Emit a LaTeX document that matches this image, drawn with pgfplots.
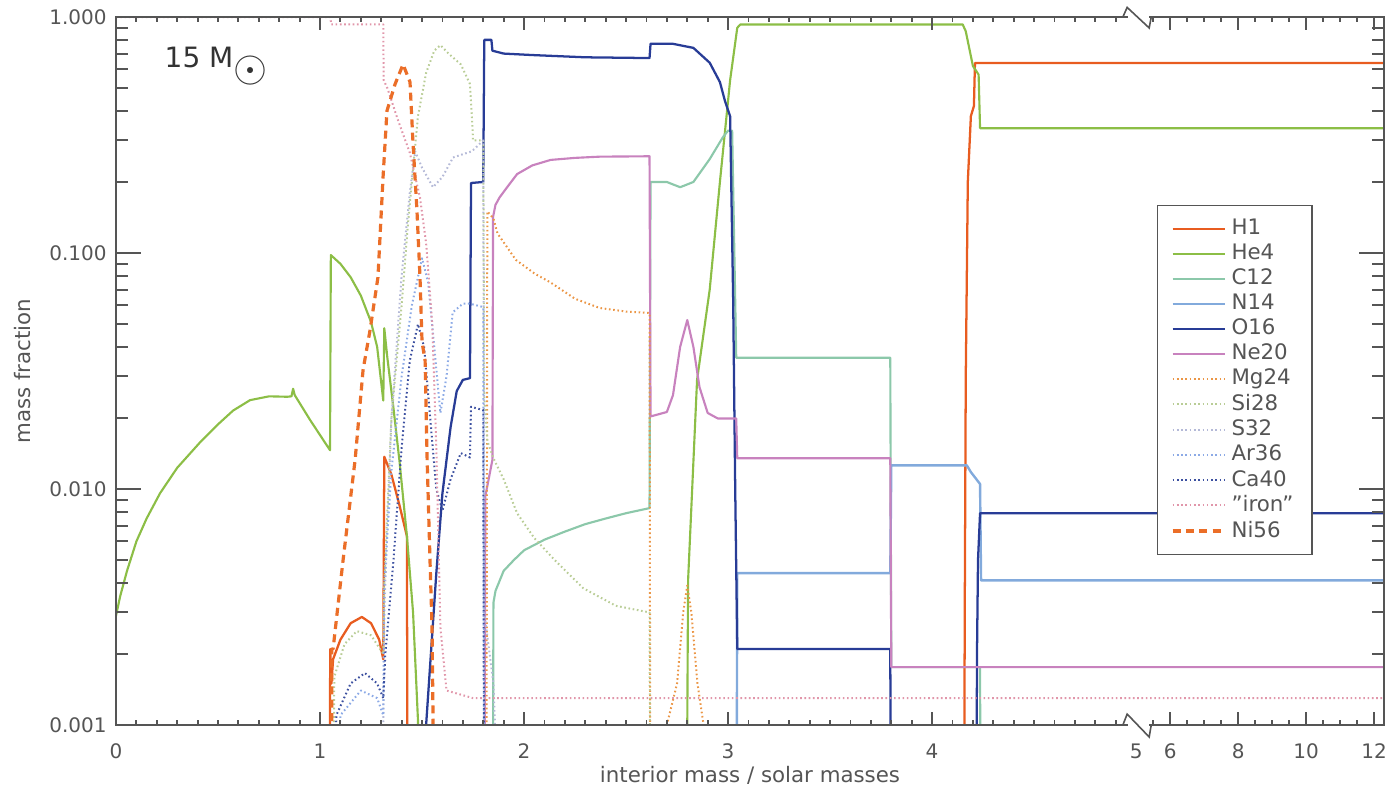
\documentclass[border=0pt]{standalone}
\usepackage{fontspec}
\setmainfont{DejaVu Sans}
\usepackage{pgfplots}
\pgfplotsset{compat=1.18}
\definecolor{cH}{RGB}{232,92,32}
\definecolor{cHe}{RGB}{140,190,70}
\definecolor{cC}{RGB}{140,200,170}
\definecolor{cN}{RGB}{130,170,220}
\definecolor{cO}{RGB}{40,60,150}
\definecolor{cNe}{RGB}{200,130,190}
\definecolor{cMg}{RGB}{235,150,70}
\definecolor{cSi}{RGB}{185,205,150}
\definecolor{cS}{RGB}{180,185,215}
\definecolor{cAr}{RGB}{140,170,230}
\definecolor{cCa}{RGB}{60,80,160}
\definecolor{cFe}{RGB}{225,150,170}
\definecolor{cNi}{RGB}{235,110,40}
\definecolor{axg}{RGB}{85,85,85}
\begin{document}
\begin{tikzpicture}
\begin{axis}[
  scale only axis, width=475.5pt, height=265.5pt,
  xmin=0, xmax=6.215, ymin=0.001, ymax=1, ymode=log,
  clip mode=individual,
  axis line style={draw=axg, line width=0.6pt},
  xtick=\empty, ytick=\empty,
  extra x ticks={0,1,2,3,4,5,5.16667,5.5,5.83333,6.16667},
  extra x tick labels={0,1,2,3,4,5,6,8,10,12},
  extra x tick style={major tick length=0pt, tick label style={font=\fontsize{7.5}{9}\selectfont, text=axg, yshift=-3.5pt}},
  xlabel={interior mass / solar masses},
  every axis x label/.style={at={(axis description cs:0.5,-0.071)}, anchor=center, font=\fontsize{8}{9}\selectfont, text=axg},
  legend style={at={(axis description cs:0.821,0.7345)}, anchor=north west, draw=axg, line width=0.5pt, font=\fontsize{8}{9}\selectfont, text=axg, row sep=-2pt, inner xsep=5pt, inner ysep=3pt, /tikz/every even column/.append style={column sep=9pt}},
  legend cell align=left,
  legend image code/.code={\draw[#1] (0pt,0pt) -- (19.5pt,0pt);},
  every axis plot/.append style={line join=round},
]
% H1
\addplot[cH, line width=0.85pt] coordinates {
(1.045,0.0001) (1.05,0.0021) (1.056,0.0015) (1.064,0.0019) (1.10,0.0023) (1.15,0.0027) (1.205,0.00287) (1.25,0.0027) (1.29,0.0023) (1.31,0.0019) (1.315,0.0137) (1.35,0.0115) (1.39,0.0085) (1.426,0.0063) (1.43,0.0001)
(4.155,0.0001) (4.16,0.003) (4.165,0.03) (4.175,0.2) (4.19,0.38) (4.205,0.42) (4.21,0.638) (6.3,0.638)};
\addlegendentry{H1}
% He4
\addplot[cHe, line width=0.8pt] coordinates {
(0,0.0029) (0.02,0.0035) (0.054,0.0045) (0.1,0.0060) (0.15,0.0075) (0.216,0.0096) (0.3,0.0123) (0.41,0.0157) (0.5,0.0188) (0.574,0.0215) (0.657,0.0238) (0.75,0.0247) (0.84,0.0246) (0.86,0.0247) (0.868,0.0266) (0.876,0.0250) (0.95,0.0197) (1.049,0.0146) (1.053,0.098) (1.10,0.090) (1.15,0.079) (1.20,0.066) (1.25,0.051) (1.28,0.040) (1.31,0.0237) (1.315,0.048) (1.33,0.036) (1.36,0.022) (1.39,0.013) (1.426,0.0063) (1.456,0.0030) (1.48,0.00105) (1.49,0.0001)
(2.79,0.0001) (2.80,0.001) (2.804,0.0041) (2.848,0.029) (2.91,0.07) (2.96,0.2) (3.01,0.54) (3.045,0.9) (3.06,0.93) (4.15,0.93) (4.165,0.87) (4.20,0.62) (4.228,0.57) (4.235,0.338) (6.3,0.338)};
\addlegendentry{He4}
% C12
\addplot[cC, line width=0.8pt] coordinates {
(1.845,0.0001) (1.85,0.0033) (1.86,0.0037) (1.90,0.0045) (1.95,0.0050) (2.0,0.0055) (2.1,0.0061) (2.2,0.0066) (2.3,0.0071) (2.4,0.0075) (2.5,0.0079) (2.615,0.0083) (2.62,0.20) (2.70,0.20) (2.765,0.19) (2.83,0.20) (2.91,0.25) (2.975,0.31) (3.0,0.33) (3.02,0.33) (3.04,0.036) (3.795,0.036) (3.80,0.00176) (4.235,0.00176) (4.24,0.0001)};
\addlegendentry{C12}
% N14
\addplot[cN, line width=0.9pt] coordinates {
(3.04,0.0001) (3.045,0.0044) (3.795,0.0044) (3.80,0.0126) (4.17,0.0126) (4.19,0.0118) (4.235,0.0105) (4.24,0.0041) (6.3,0.0041)};
\addlegendentry{N14}
% O16
\addplot[cO, line width=0.85pt] coordinates {
(1.515,0.0001) (1.52,0.001) (1.57,0.0044) (1.60,0.0096) (1.64,0.0183) (1.67,0.026) (1.70,0.029) (1.735,0.0295) (1.74,0.198) (1.80,0.20) (1.805,0.80) (1.84,0.80) (1.845,0.72) (1.9,0.70) (2.04,0.69) (2.3,0.675) (2.615,0.67) (2.62,0.77) (2.73,0.77) (2.83,0.74) (2.91,0.64) (2.96,0.53) (2.985,0.44) (3.01,0.38) (3.025,0.063) (3.035,0.01) (3.045,0.0021) (3.795,0.0021) (3.80,0.0001)
(4.215,0.0001) (4.22,0.002) (4.225,0.005) (4.235,0.0079) (6.3,0.0079)};
\addlegendentry{O16}
% Ne20
\addplot[cNe, line width=0.8pt] coordinates {
(1.805,0.0001) (1.81,0.0093) (1.845,0.0133) (1.848,0.142) (1.86,0.16) (1.88,0.172) (1.917,0.19) (1.966,0.216) (2.04,0.235) (2.13,0.248) (2.25,0.253) (2.37,0.256) (2.615,0.257) (2.62,0.0203) (2.70,0.0212) (2.73,0.025) (2.765,0.040) (2.80,0.052) (2.83,0.040) (2.86,0.027) (2.90,0.021) (2.95,0.0199) (3.04,0.0199) (3.045,0.0135) (3.795,0.0135) (3.80,0.00176) (6.3,0.00176)};
\addlegendentry{Ne20}
% Mg24
\addplot[cMg, line width=0.75pt, dash pattern=on 0.6pt off 1pt] coordinates {
(1.815,0.0001) (1.82,0.15) (1.85,0.14) (1.87,0.121) (1.96,0.0935) (2.05,0.082) (2.13,0.075) (2.25,0.064) (2.37,0.0585) (2.5,0.0565) (2.615,0.0557) (2.62,0.0001) (2.69,0.0001) (2.70,0.001) (2.75,0.0015) (2.78,0.003) (2.80,0.0039) (2.82,0.0030) (2.85,0.0015) (2.88,0.001) (2.885,0.0001)};
\addlegendentry{Mg24}
% Si28
\addplot[cSi, line width=0.75pt, dash pattern=on 0.6pt off 1pt] coordinates {
(1.06,0.0001) (1.07,0.0016) (1.12,0.0022) (1.18,0.0025) (1.25,0.0024) (1.31,0.0020) (1.315,0.004) (1.35,0.02) (1.40,0.06) (1.43,0.13) (1.45,0.2) (1.48,0.38) (1.52,0.58) (1.56,0.72) (1.59,0.76) (1.63,0.70) (1.69,0.63) (1.735,0.52) (1.745,0.37) (1.75,0.30) (1.80,0.30) (1.805,0.025) (1.82,0.016) (1.85,0.0135) (1.90,0.011) (1.966,0.0079) (2.05,0.0062) (2.15,0.0050) (2.29,0.0038) (2.45,0.0032) (2.615,0.0030) (2.62,0.0001)};
\addlegendentry{Si28}
% S32
\addplot[cS, line width=0.75pt, dash pattern=on 0.6pt off 1pt] coordinates {
(1.30,0.0001) (1.315,0.003) (1.35,0.02) (1.40,0.08) (1.44,0.18) (1.466,0.27) (1.50,0.23) (1.554,0.19) (1.60,0.21) (1.652,0.254) (1.745,0.27) (1.80,0.30) (1.805,0.003) (1.85,0.0015) (1.9,0.0001)};
\addlegendentry{S32}
% Ar36
\addplot[cAr, line width=0.75pt, dash pattern=on 0.6pt off 1pt] coordinates {
(1.06,0.0001) (1.10,0.0011) (1.20,0.0014) (1.28,0.0013) (1.31,0.0011) (1.315,0.004) (1.35,0.012) (1.40,0.03) (1.45,0.06) (1.50,0.095) (1.53,0.075) (1.56,0.04) (1.59,0.021) (1.62,0.03) (1.65,0.056) (1.70,0.061) (1.735,0.061) (1.80,0.059) (1.805,0.0001)};
\addlegendentry{Ar36}
% Ca40
\addplot[cCa, line width=0.75pt, dash pattern=on 0.6pt off 1pt] coordinates {
(1.06,0.0001) (1.08,0.0011) (1.15,0.0015) (1.22,0.00166) (1.28,0.0015) (1.31,0.0013) (1.32,0.002) (1.36,0.005) (1.40,0.015) (1.44,0.035) (1.48,0.05) (1.51,0.04) (1.54,0.02) (1.57,0.01) (1.60,0.0081) (1.64,0.011) (1.69,0.0142) (1.735,0.0136) (1.74,0.0223) (1.80,0.0216) (1.805,0.0001)};
\addlegendentry{Ca40}
% iron
\addplot[cFe, line width=0.75pt, dash pattern=on 0.6pt off 1pt] coordinates {
(0,1.0) (1.05,1.0) (1.055,0.93) (1.31,0.93) (1.312,0.54) (1.33,0.50) (1.38,0.37) (1.44,0.266) (1.49,0.172) (1.52,0.11) (1.55,0.05) (1.57,0.015) (1.59,0.0026) (1.62,0.0014) (1.75,0.0013) (6.3,0.0013)};
\addlegendentry{"iron"}
% Ni56
\addplot[cNi, line width=1.2pt, dash pattern=on 3pt off 2pt] coordinates {
(1.055,0.0001) (1.058,0.0021) (1.064,0.0021) (1.113,0.005) (1.172,0.0133) (1.211,0.032) (1.245,0.047) (1.284,0.079) (1.309,0.21) (1.328,0.40) (1.368,0.52) (1.407,0.63) (1.441,0.53) (1.456,0.29) (1.475,0.152) (1.49,0.079) (1.50,0.042) (1.515,0.035) (1.525,0.0133) (1.539,0.005) (1.549,0.0026) (1.554,0.00105) (1.556,0.0001)};
\addlegendentry{Ni56}
\node[anchor=base west, font=\fontsize{10.5}{12}\selectfont, text=black!80] at (axis description cs:0.031,0.928) {15 M\raisebox{-0.5em}{\scalebox{1.5}{$\odot$}}};
\end{axis}
\begin{axis}[
  scale only axis, width=475.5pt, height=265.5pt,
  xmin=0, xmax=6.215, ymin=0.001, ymax=1, ymode=log,
  clip=false,
  axis line style={draw=axg, line width=0.6pt},
  tick style={draw=axg, line width=0.7pt},
  tick label style={font=\fontsize{7.5}{9}\selectfont, text=axg},
  major tick length=9.4pt, minor tick length=4.5pt,
  xtick=\empty,
  ytick={0.001,0.01,0.1,1},
  yticklabels={0.001,0.010,0.100,1.000},
  ylabel={mass fraction},
  every axis y label/.style={at={(axis description cs:-0.074,0.5)}, rotate=90, anchor=center, font=\fontsize{8}{9}\selectfont, text=axg},
]
% axis break marks
\draw[white, line width=2pt] (axis cs:4.958,0.001) -- (axis cs:5.062,0.001);
\draw[white, line width=2pt] (axis cs:4.958,1) -- (axis cs:5.062,1);
\draw[axg, line width=0.6pt] (axis cs:4.935,0.001) -- ([yshift=4.1pt]axis cs:4.956,0.001) -- ([yshift=-4.5pt]axis cs:5.064,0.001) -- (axis cs:5.074,0.001);
\draw[axg, line width=0.6pt] (axis cs:4.935,1) -- ([yshift=3.6pt]axis cs:4.956,1) -- ([yshift=-4.1pt]axis cs:5.064,1) -- (axis cs:5.074,1);
\end{axis}
% x tick marks on bottom and top axes (75.5pt per unit of the drawn scale)
\coordinate (SW) at (current axis.south west);
\coordinate (NW) at (current axis.north west);
\coordinate (SE) at (current axis.south east);
\foreach \t in {0,1,2,3,4,5.16667,5.5,5.83333,6.16667} {
  \draw[axg, line width=0.7pt] ([xshift=\t*76.5085pt]SW) -- ++(0pt,4.7pt);
  \draw[axg, line width=0.7pt] ([xshift=\t*76.5085pt]NW) -- ++(0pt,-4.7pt);
}
\foreach \t in {0.1,0.2,0.3,0.4,0.5,0.6,0.7,0.8,0.9,1.1,1.2,1.3,1.4,1.5,1.6,1.7,1.8,1.9,2.1,2.2,2.3,2.4,2.5,2.6,2.7,2.8,2.9,3.1,3.2,3.3,3.4,3.5,3.6,3.7,3.8,3.9,4.1,4.2,4.3,4.4,4.5,4.6,4.7,4.8,4.9,5.0833,5.25,5.3333,5.4167,5.5833,5.6667,5.75,5.9167,6.0,6.0833} {
  \draw[axg, line width=0.7pt] ([xshift=\t*76.5085pt]SW) -- ++(0pt,2pt);
  \draw[axg, line width=0.7pt] ([xshift=\t*76.5085pt]NW) -- ++(0pt,-2pt);
}
% y tick marks on the right axis (88.5pt per decade)
\foreach \d in {0,1,2,3} {
  \draw[axg, line width=0.7pt] ([yshift=\d*88.5pt]SE) -- ++(-9.4pt,0pt);
}
\foreach \d in {0,1,2} {
  \foreach \k in {2,3,4,5,6,7,8,9} {
    \draw[axg, line width=0.7pt] ([yshift={(\d+log10(\k))*88.5pt}]SE) -- ++(-4.5pt,0pt);
  }
}
\pgfresetboundingbox
\path[use as bounding box] ([xshift=-43.5pt,yshift=-24.75pt]SW) rectangle ([xshift=476.625pt,yshift=271.875pt]SW);
\end{tikzpicture}
\end{document}
